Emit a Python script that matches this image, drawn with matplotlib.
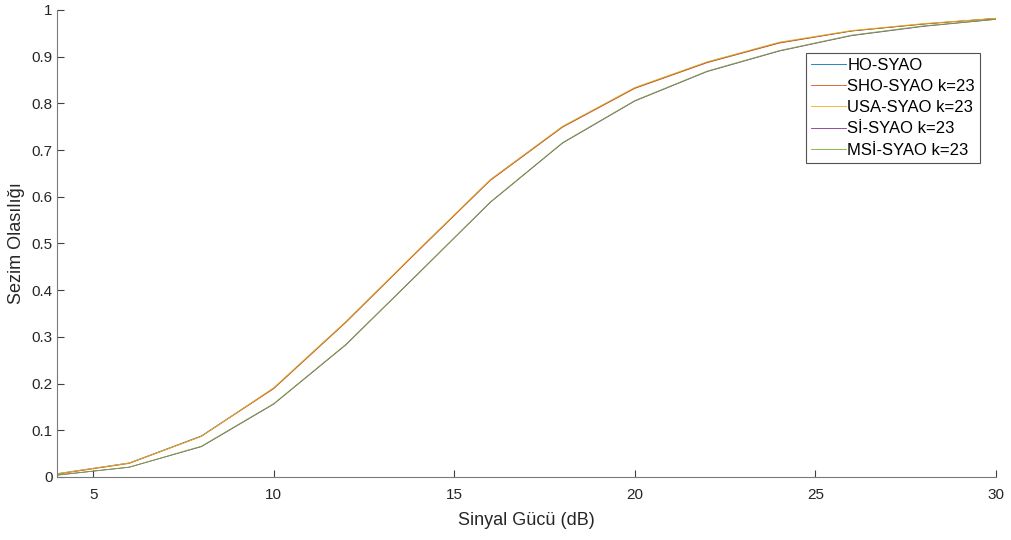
import numpy as np
import matplotlib.pyplot as plt

plt.rcParams['font.family'] = ['Liberation Sans', 'DejaVu Sans']

snr = [4, 6, 8, 10, 12, 14, 16, 18, 20, 22, 24, 26, 28, 30]

ho  = [0.007, 0.030, 0.088, 0.190, 0.332, 0.485, 0.636, 0.750, 0.833, 0.888, 0.930, 0.955, 0.970, 0.982]
sho = [0.006, 0.029, 0.087, 0.189, 0.331, 0.484, 0.635, 0.749, 0.832, 0.887, 0.929, 0.955, 0.970, 0.982]
usa = [0.007, 0.030, 0.087, 0.191, 0.333, 0.486, 0.637, 0.751, 0.834, 0.889, 0.931, 0.956, 0.971, 0.982]
si  = [0.004, 0.021, 0.065, 0.156, 0.283, 0.435, 0.588, 0.715, 0.805, 0.868, 0.912, 0.945, 0.965, 0.980]
msi = [0.004, 0.021, 0.066, 0.157, 0.284, 0.436, 0.589, 0.716, 0.806, 0.869, 0.913, 0.946, 0.966, 0.980]

names = ['HO-SYAO', 'SHO-SYAO k=23', 'USA-SYAO k=23', 'Sİ-SYAO k=23', 'MSİ-SYAO k=23']
colors = ['#0072BD', '#D95319', '#EDB120', '#7E2F8E', '#77AC30']

fig = plt.figure(figsize=(10.11, 5.4), dpi=100)
ax = fig.add_axes([0.0564, 0.1167, 0.9286, 0.8648])

for y, n, c in zip([ho, sho, usa, si, msi], names, colors):
    ax.plot(snr, y, color=c, lw=0.6, label=n)

ax.set_xlim(4, 30)
ax.set_ylim(0, 1)
ax.set_xticks([5, 10, 15, 20, 25, 30])
ax.set_yticks(np.arange(0, 1.01, 0.1))
ax.set_yticklabels(['0', '0.1', '0.2', '0.3', '0.4', '0.5', '0.6', '0.7', '0.8', '0.9', '1'])
for s in ['top', 'right']:
    ax.spines[s].set_visible(False)
for s in ['left', 'bottom']:
    ax.spines[s].set_color('#7a7a7a')
    ax.spines[s].set_linewidth(0.8)
ax.tick_params(direction='in', length=5, width=0.8, color='#404040',
               labelsize=11, labelcolor='#262626')
ax.tick_params(axis='x', pad=8)
ax.tick_params(axis='y', pad=3)
ax.set_xlabel('Sinyal Gücü (dB)', fontsize=13, color='#262626', labelpad=7)
ax.set_ylabel('Sezim Olasılığı', fontsize=13, color='#262626', labelpad=5)

leg = ax.legend(loc='upper right', bbox_to_anchor=(0.983, 0.908), fontsize=12,
                frameon=True, fancybox=False, edgecolor='#262626', handlelength=2.1,
                handletextpad=0.1, borderpad=0.3, labelspacing=0.37, borderaxespad=0)
leg.get_frame().set_linewidth(0.8)

fig.savefig('out.png', dpi=100)
